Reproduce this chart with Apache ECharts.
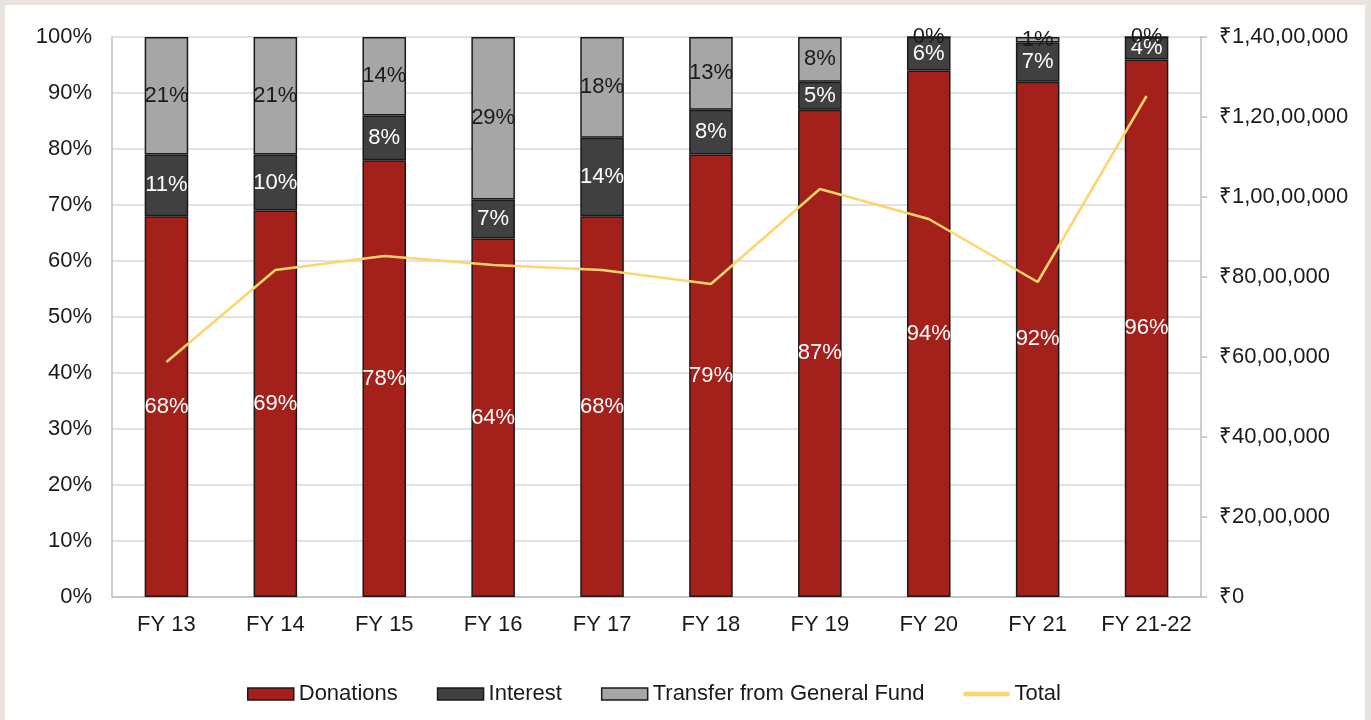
<!DOCTYPE html>
<html>
<head>
<meta charset="utf-8">
<script src="https://cdn.jsdelivr.net/npm/echarts@6/dist/echarts.min.js"></script>
<style>
    html, body { margin: 0; padding: 0; background: #e8e4dd; }
    #panel { position: absolute; left: 5px; top: 5px; width: 1360px; height: 715px; background: #fff; }
    #chart { position: absolute; left: 0; top: 0; width: 1371px; height: 720px; }
</style>
</head>
<body>
<div id="panel"></div>
<div id="chart"></div>
<script>
// data
const categories = ["FY 13", "FY 14", "FY 15", "FY 16", "FY 17", "FY 18", "FY 19", "FY 20", "FY 21", "FY 21-22"];
const donations = [68, 69, 78, 64, 68, 79, 87, 94, 92, 96];
const interest = [11, 10, 8, 7, 14, 8, 5, 6, 7, 4];
const transfer = [21, 21, 14, 29, 18, 13, 8, 0, 1, 0];
const total = [5875000, 8175000, 8525000, 8300000, 8175000, 7825000, 10200000, 9450000, 7875000, 12525000];

const font = "'Liberation Sans', Arial, sans-serif";

// indian digit grouping: 1,40,00,000
function inr(v) {
    if (v === 0) return '₹0';
    let s = String(v);
    let last3 = s.slice(-3);
    let rest = s.slice(0, -3);
    rest = rest.replace(/\B(?=(\d{2})+(?!\d))/g, ',');
    return '₹' + (rest ? rest + ',' + last3 : last3);
}

const chart = echarts.init(document.getElementById('chart'));

function barSeries(name, data, color, labelColor) {
    return {
        name: name,
        type: 'bar',
        stack: 'share',
        barWidth: '40%',
        data: data,
        itemStyle: {
            color: color,
            borderColor: '#1a1a1a',
            borderWidth: 1.5
        },
        label: {
            show: true,
            position: 'inside',
            color: labelColor,
            fontFamily: font,
            fontSize: 22,
            formatter: '{c}%'
        }
    };
}

let option = {
    animation: false,
    textStyle: { fontFamily: font },
    grid: {
        left: 112,
        right: 170,
        top: 37,
        bottom: 123
    },
    legend: {
        bottom: 10,
        left: 242,
        icon: 'rect',
        itemWidth: 46,
        itemHeight: 12,
        itemGap: 39,
        textStyle: { fontFamily: font, fontSize: 22, color: '#1a1a1a' },
        data: [
            { name: 'Donations', itemStyle: { borderColor: '#1a1a1a', borderWidth: 1.5 } },
            { name: 'Interest', itemStyle: { borderColor: '#1a1a1a', borderWidth: 1.5 } },
            { name: 'Transfer from General Fund', itemStyle: { borderColor: '#1a1a1a', borderWidth: 1.5 } },
            { name: 'Total', icon: 'path://M0,0 L10,0 L10,1 L0,1 Z', itemStyle: { color: '#ffd36e' } }
        ]
    },
    xAxis: {
        type: 'category',
        data: categories,
        axisLine: { lineStyle: { color: '#bfbfbf', width: 1.5 } },
        axisTick: { show: false },
        axisLabel: { color: '#1a1a1a', fontSize: 22, margin: 17, interval: 0 }
    },
    yAxis: [{
        type: 'value',
        min: 0,
        max: 100,
        interval: 10,
        axisLine: { show: true, lineStyle: { color: '#bfbfbf', width: 1.5 } },
        axisTick: { show: false },
        splitLine: { lineStyle: { color: '#d9d9d9', width: 1.5 } },
        axisLabel: { color: '#1a1a1a', fontSize: 22, margin: 20, formatter: '{value}%' }
    }, {
        type: 'value',
        min: 0,
        max: 14000000,
        interval: 2000000,
        position: 'right',
        axisLine: { show: true, lineStyle: { color: '#bfbfbf', width: 1.5 } },
        axisTick: { show: true, length: 6, lineStyle: { color: '#bfbfbf', width: 1.5 } },
        splitLine: { show: false },
        axisLabel: { color: '#1a1a1a', fontSize: 22, margin: 18, formatter: inr }
    }],
    series: [
        barSeries('Donations', donations, '#a3201b', '#ffffff'),
        barSeries('Interest', interest, '#404040', '#ffffff'),
        barSeries('Transfer from General Fund', transfer, '#a6a6a6', '#1a1a1a'),
        {
            name: 'Total',
            type: 'line',
            yAxisIndex: 1,
            data: total,
            symbol: 'none',
            z: 5,
            lineStyle: { color: '#ffd36e', width: 2.5 },
            itemStyle: { color: '#ffd36e' }
        }
    ]
};
chart.setOption(option);
</script>
</body>
</html>
